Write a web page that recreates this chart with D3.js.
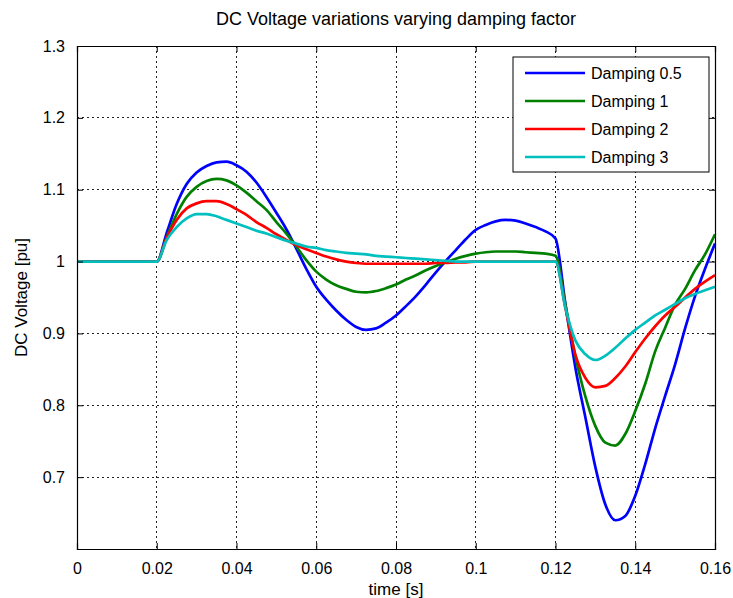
<!DOCTYPE html>
<html>
<head>
<meta charset="utf-8">
<script src="https://cdn.jsdelivr.net/npm/d3@7"></script>
<style>
  body { margin: 0; background: #fff; }
  text { font-family: "Liberation Sans", Arial, sans-serif; }
</style>
</head>
<body>
<svg width="733" height="598"></svg>
<script>
// time samples (s), shared by all four series
var time = [0, 0.02, 0.0225, 0.025, 0.0275, 0.03, 0.0325, 0.035, 0.0375, 0.04,
  0.0425, 0.045, 0.0475, 0.05, 0.0525, 0.055, 0.0575, 0.06, 0.0625, 0.065,
  0.0675, 0.07, 0.0725, 0.075, 0.0775, 0.08, 0.0825, 0.085, 0.0875, 0.09,
  0.0925, 0.095, 0.0975, 0.1, 0.1025, 0.105, 0.1075, 0.11, 0.1125, 0.115,
  0.1175, 0.12, 0.1225, 0.125, 0.1275, 0.13, 0.1325, 0.135, 0.1375, 0.14,
  0.1425, 0.145, 0.1475, 0.15, 0.1525, 0.155, 0.1575, 0.16];

var damping05 = [1, 1, 1.040, 1.080, 1.108, 1.124, 1.133, 1.138, 1.139, 1.134,
  1.125, 1.110, 1.090, 1.068, 1.045, 1.018, 0.990, 0.965, 0.947, 0.932,
  0.919, 0.909, 0.905, 0.907, 0.915, 0.925, 0.938, 0.952, 0.968, 0.985,
  1.001, 1.016, 1.031, 1.044, 1.051, 1.056, 1.058, 1.057, 1.053, 1.048,
  1.042, 1.032, 0.940, 0.852, 0.783, 0.714, 0.662, 0.640, 0.646, 0.674,
  0.718, 0.768, 0.813, 0.857, 0.907, 0.952, 0.990, 1.025];

var damping1 = [1, 1, 1.034, 1.066, 1.090, 1.104, 1.112, 1.115, 1.113, 1.106,
  1.096, 1.084, 1.072, 1.055, 1.039, 1.021, 1.002, 0.986, 0.975, 0.967,
  0.962, 0.958, 0.957, 0.959, 0.963, 0.968, 0.975, 0.981, 0.988, 0.994,
  0.999, 1.004, 1.008, 1.011, 1.013, 1.014, 1.014, 1.014, 1.013, 1.012,
  1.011, 1.008, 0.940, 0.868, 0.812, 0.771, 0.748, 0.744, 0.760, 0.792,
  0.830, 0.875, 0.908, 0.940, 0.962, 0.988, 1.010, 1.038];

var damping2 = [1, 1, 1.033, 1.058, 1.074, 1.081, 1.084, 1.084, 1.080, 1.073,
  1.065, 1.055, 1.047, 1.038, 1.030, 1.023, 1.017, 1.012, 1.007, 1.003,
  1.000, 0.998, 0.997, 0.997, 0.997, 0.997, 0.997, 0.997, 0.997, 0.998,
  0.998, 0.999, 0.999, 1, 1, 1, 1, 1, 1, 1,
  1, 1, 0.935, 0.870, 0.838, 0.825, 0.827, 0.838, 0.854, 0.874,
  0.893, 0.910, 0.925, 0.937, 0.950, 0.962, 0.972, 0.981];

var damping3 = [1, 1, 1.030, 1.048, 1.060, 1.066, 1.066, 1.063, 1.058, 1.053,
  1.048, 1.043, 1.039, 1.034, 1.029, 1.025, 1.021, 1.019, 1.016, 1.014,
  1.012, 1.011, 1.010, 1.008, 1.007, 1.006, 1.005, 1.004, 1.003, 1.002,
  1.001, 1, 1, 1, 1, 1, 1, 1, 1, 1,
  1, 1, 0.935, 0.890, 0.871, 0.863, 0.869, 0.880, 0.893, 0.905,
  0.915, 0.925, 0.933, 0.941, 0.949, 0.955, 0.960, 0.965];

var seriesNames = ["Damping 0.5", "Damping 1", "Damping 2", "Damping 3"];
var seriesColors = ["#0000ff", "#008000", "#ff0000", "#00bfbf"];
var xTicks = [0, 0.02, 0.04, 0.06, 0.08, 0.1, 0.12, 0.14, 0.16];
var yTicks = [0.6, 0.7, 0.8, 0.9, 1, 1.1, 1.2, 1.3];

var series = [damping05, damping1, damping2, damping3].map(function(vals, i) {
  return {
    name: seriesNames[i],
    color: seriesColors[i],
    points: vals.map(function(v, j) { return {t: time[j], v: v}; })
  };
});

var svg = d3.select("svg"),
  margin = {top: 46, right: 18, bottom: 49, left: 77},
  width = +svg.attr("width") - margin.left - margin.right,
  height = +svg.attr("height") - margin.top - margin.bottom;

var g = svg.append("g").attr("transform", "translate(" + margin.left + "," + margin.top + ")");

var x = d3.scaleLinear().domain([0, 0.16]).range([0, width]);
var y = d3.scaleLinear().domain([0.6, 1.3]).range([height, 0]);

// dotted grid
g.append("g").selectAll("line")
  .data(xTicks.slice(1, -1))
  .enter().append("line")
  .attr("x1", function(d) { return x(d); }).attr("x2", function(d) { return x(d); })
  .attr("y1", 0).attr("y2", height)
  .attr("stroke", "#222").attr("stroke-dasharray", "2,3").attr("shape-rendering", "crispEdges");
g.append("g").selectAll("line")
  .data(yTicks.slice(1, -1))
  .enter().append("line")
  .attr("y1", function(d) { return y(d); }).attr("y2", function(d) { return y(d); })
  .attr("x1", 0).attr("x2", width)
  .attr("stroke", "#222").attr("stroke-dasharray", "2,3").attr("shape-rendering", "crispEdges");

// curves
var line = d3.line()
  .x(function(d) { return x(d.t); })
  .y(function(d) { return y(d.v); })
  .curve(d3.curveMonotoneX);

g.append("g").selectAll("path")
  .data(series)
  .enter().append("path")
  .attr("fill", "none")
  .attr("stroke", function(d) { return d.color; })
  .attr("stroke-width", 2.7)
  .attr("stroke-linejoin", "round")
  .attr("d", function(d) { return line(d.points); });

// axes, matlab style: ticks inside on all four sides
var tickFmt = function(d) { return d === 0 ? "0" : String(+d.toFixed(2)); };

g.append("g")
  .attr("transform", "translate(0," + height + ")")
  .call(d3.axisBottom(x).tickValues(xTicks).tickFormat(tickFmt).tickSize(-6).tickPadding(14));
g.append("g")
  .call(d3.axisLeft(y).tickValues(yTicks).tickFormat(function(d) { return d === 0.6 ? "" : tickFmt(d); }).tickSize(-6).tickPadding(12));
g.append("g")
  .call(d3.axisTop(x).tickValues(xTicks).tickFormat("").tickSize(-6));
g.append("g")
  .attr("transform", "translate(" + width + ",0)")
  .call(d3.axisRight(y).tickValues(yTicks).tickFormat("").tickSize(-6));

g.selectAll(".domain").attr("stroke", "#000").attr("stroke-width", 1.2);
g.selectAll(".tick line").attr("stroke", "#000");
g.selectAll(".tick text").attr("font-size", 16).attr("fill", "#000")
  .attr("font-family", "Liberation Sans, Arial, sans-serif");

// labels
svg.append("text")
  .attr("x", margin.left + width / 2).attr("y", 25)
  .attr("text-anchor", "middle").attr("font-size", 18)
  .text("DC Voltage variations varying damping factor");

svg.append("text")
  .attr("x", margin.left + width / 2).attr("y", 595)
  .attr("text-anchor", "middle").attr("font-size", 17)
  .text("time [s]");

svg.append("text")
  .attr("transform", "translate(27," + (margin.top + height / 2) + ") rotate(-90)")
  .attr("text-anchor", "middle").attr("font-size", 17)
  .text("DC Voltage [pu]");

// legend
var legend = g.append("g")
  .attr("class", "legend")
  .attr("transform", "translate(" + (width - 202) + ",11)");

legend.append("rect")
  .attr("width", 196).attr("height", 115)
  .attr("fill", "#fff").attr("stroke", "#000").attr("stroke-width", 1);

var item = legend.selectAll(".legenditem")
  .data(series)
  .enter().append("g")
  .attr("class", "legenditem")
  .attr("transform", function(d, i) { return "translate(0," + (16 + i * 28) + ")"; });

item.append("line")
  .attr("x1", 12).attr("x2", 72)
  .attr("stroke", function(d) { return d.color; })
  .attr("stroke-width", 2.7);

item.append("text")
  .attr("x", 78).attr("dy", "0.35em")
  .attr("font-size", 16)
  .text(function(d) { return d.name; });
</script>
</body>
</html>
